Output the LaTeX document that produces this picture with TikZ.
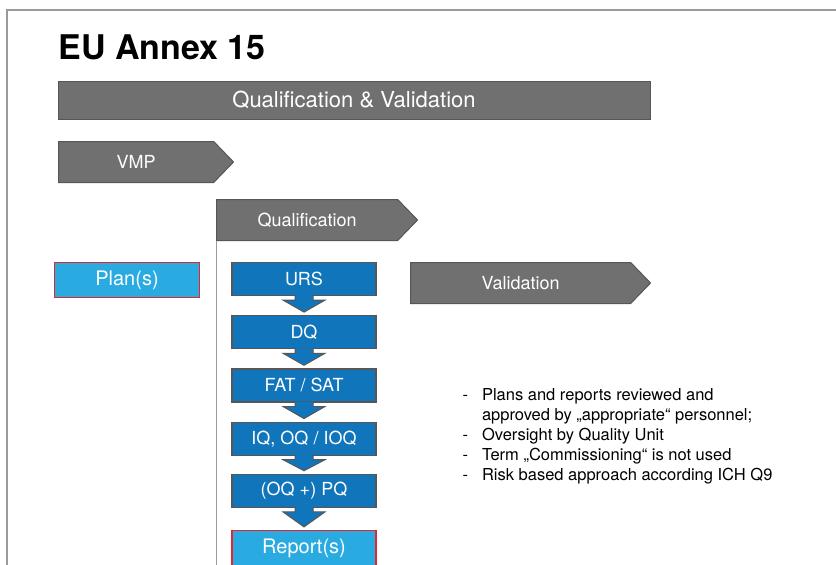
\documentclass[tikz,border=0pt]{standalone}
\usepackage{fontspec}
\setmainfont{TeX Gyre Heros}
\usetikzlibrary{positioning,calc,shapes.symbols}
\definecolor{AnnexGray}{HTML}{707070}
\definecolor{AnnexGrayLine}{HTML}{565656}
\definecolor{AnnexBlue}{HTML}{1175BB}
\definecolor{AnnexSky}{HTML}{29ABE2}
\definecolor{AnnexRed}{HTML}{E3262B}
\definecolor{AnnexFrame}{HTML}{9A9A9A}

\begin{document}
\begin{tikzpicture}[x=1pt,y=-1pt,node distance=19pt]
    \tikzset{phase/.style={signal,signal to=east,signal pointer angle=92,fill=AnnexGray,
      draw=AnnexGrayLine,line width=1pt,text=white,font=\fontsize{18}{22}\selectfont,
      minimum height=41pt,inner sep=0pt},
      stage/.style={rectangle,fill=AnnexBlue,draw=AnnexGrayLine,line width=1.2pt,
      minimum width=144pt,minimum height=33pt,text=white,font=\fontsize{18}{22}\selectfont},
      doc/.style={stage,fill=AnnexSky,draw=AnnexRed,minimum height=35pt,font=\fontsize{20}{24}\selectfont},
      flow/.style={fill=AnnexBlue,draw=AnnexGrayLine,line width=1pt,line join=miter}}
    \useasboundingbox (0,0) rectangle (836,565);
    \draw[AnnexFrame,line width=1.2pt] (7,565) -- (7,10) -- (836,10);
    \node[anchor=base west,font=\fontsize{34}{40}\selectfont\bfseries] (title) at (55,59) {EU Annex 15};
    \node[rectangle,fill=AnnexGray,draw=AnnexGrayLine,line width=1pt,text=white,
      font=\fontsize{22}{26}\selectfont,minimum width=592pt,minimum height=38pt] (qv) at (354,100) {Qualification \& Validation};
    \node[phase,minimum width=175pt,anchor=west] (vmp) at (58,162) {VMP};
    \node[phase,minimum width=201pt,anchor=west] (qual) at (216,220) {Qualification};
    \node[phase,minimum width=240pt,anchor=west] (val) at (410,283) {Validation};
    \coordinate (qbase) at (216,565);
    \draw[AnnexFrame,line width=1pt] (qual.south -| qual.west) -- (qbase);
    \node[doc,minimum width=145pt] (plan) at (127,280) {Plan(s)};
    \node[stage] (urs) at (304,279) {URS};
    \node[stage,below=of urs] (dq) {DQ};
    \node[stage,below=of dq] (fat) {FAT / SAT};
    \node[stage,below=of fat] (iq) {IQ, OQ / IOQ};
    \node[stage,below=18pt of iq] (pq) {(OQ +) PQ};
    \node[doc,below=22pt of pq] (rep) {Report(s)};
    \foreach \a/\b in {urs/dq,dq/fat,fat/iq,iq/pq,pq/rep}
      \draw[flow] ($(\a.south)+(-9,-1)$) -- ($(\a.south)+(-9,4)$) -- ($(\a.south)+(-21,4)$)
        -- ($(\b.north)+(0,-3)$) -- ($(\a.south)+(21,4)$) -- ($(\a.south)+(9,4)$) -- ($(\a.south)+(9,-1)$);
    \node[anchor=base west,font=\fontsize{16.5}{20}\selectfont] (notes) at (459,400)
      {\begin{tabular}[t]{@{}l@{\hspace{14pt}}l@{}}
        - & Plans and reports reviewed and\\
          & approved by „appropriate“ personnel;\\
        - & Oversight by Quality Unit\\
        - & Term „Commissioning“ is not used\\
        - & Risk based approach according ICH Q9
      \end{tabular}};
  \end{tikzpicture}
\end{document}
